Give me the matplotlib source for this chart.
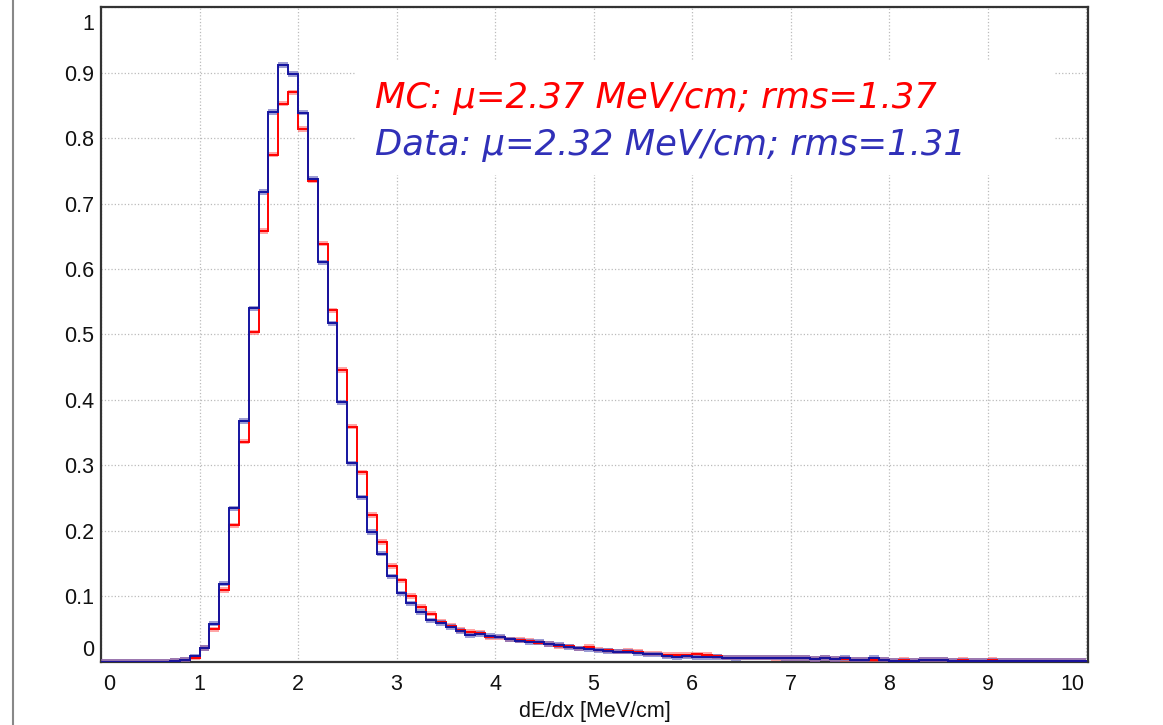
import numpy as np
import matplotlib
matplotlib.use("Agg")
import matplotlib.pyplot as plt
import matplotlib.transforms as mtransforms
from matplotlib.patches import Rectangle
from matplotlib.lines import Line2D

# dE/dx histogram, 100 bins of 0.1 MeV/cm from 0 to 10
bin_edges = np.round(np.arange(0, 10.01, 0.1), 2)

data_vals = [
    0, 0, 0, 0, 0, 0, 0,
    0.001, 0.003, 0.008, 0.021, 0.058, 0.119, 0.234, 0.368, 0.540, 0.718,
    0.840, 0.912, 0.898, 0.839, 0.738, 0.610, 0.517, 0.396, 0.303, 0.251,
    0.198, 0.165, 0.130, 0.104, 0.089, 0.076, 0.063, 0.059, 0.053, 0.047,
    0.040, 0.042, 0.039, 0.038, 0.034, 0.032, 0.030, 0.030, 0.027, 0.025,
    0.022, 0.020, 0.019, 0.017, 0.016, 0.015, 0.015, 0.013, 0.011, 0.011,
    0.008, 0.007, 0.008, 0.007, 0.007, 0.007, 0.006, 0.005, 0.006, 0.006,
    0.006, 0.006, 0.005, 0.005, 0.005, 0.004, 0.005, 0.004, 0.005, 0.002,
    0.002, 0.005, 0.002, 0.0015, 0.0015, 0.0015, 0.002, 0.002, 0.002, 0.0015,
    0.0015, 0.001, 0.001, 0.001,
    0.0005, 0.0005, 0.0005, 0.0005, 0.0005, 0.0005, 0.0005, 0.0005, 0.0005,
]

mc_vals = [
    0, 0, 0, 0, 0, 0, 0,
    0.001, 0.003, 0.006, 0.021, 0.049, 0.109, 0.208, 0.336, 0.503, 0.658,
    0.775, 0.853, 0.870, 0.814, 0.735, 0.639, 0.537, 0.446, 0.359, 0.289,
    0.224, 0.183, 0.146, 0.124, 0.100, 0.084, 0.073, 0.061, 0.055, 0.048,
    0.045, 0.044, 0.037, 0.037, 0.034, 0.033, 0.032, 0.029, 0.027, 0.024,
    0.023, 0.020, 0.022, 0.018, 0.017, 0.015, 0.016, 0.015, 0.012, 0.012,
    0.010, 0.010, 0.010, 0.011, 0.010, 0.008, 0.006, 0.006, 0.006, 0.006,
    0.006, 0.005, 0.005, 0.005, 0.005, 0.004, 0.005, 0.004, 0.004, 0.002,
    0.002, 0.003, 0.002, 0.0015, 0.002, 0.0015, 0.002, 0.002, 0.002, 0.0015,
    0.002, 0.001, 0.001, 0.003,
    0.0005, 0.0005, 0.0005, 0.0005, 0.0005, 0.0005, 0.0005, 0.0005, 0.0005,
]

mc_label = "MC: μ=2.37 MeV/cm; rms=1.37"
data_label = "Data: μ=2.32 MeV/cm; rms=1.31"

plt.rcParams['font.family'] = ['Liberation Sans', 'DejaVu Sans']

W, H = 1163, 725
fig = plt.figure(figsize=(W / 100, H / 100), dpi=100)
L, R, T, B = 101, 1088, 7.4, 661.5
ax = fig.add_axes([L / W, 1 - B / H, (R - L) / W, (B - T) / H])

band = 0.0042
widths = np.diff(bin_edges)
for vals, line_c, band_c in [(mc_vals, '#ff0000', '#ff6a6a'),
                             (data_vals, '#1414a0', '#5a5ab8')]:
    v = np.array(vals)
    ax.bar(bin_edges[:-1], 2 * band, width=widths, bottom=v - band,
           align='edge', color=band_c, alpha=0.6, linewidth=0, zorder=3)
    ax.stairs(v, bin_edges, color=line_c, linewidth=1.4, zorder=4)

ax.set_xlim(0, 10.02)
ax.set_ylim(0, 1.0)
ax.set_xticks(range(0, 11))
ax.set_yticks(np.round(np.arange(0, 1.01, 0.1), 1))
ax.set_yticklabels(['0'] + [f'{t:.1f}' for t in np.arange(0.1, 0.95, 0.1)] + ['1'])
ax.tick_params(length=0, labelsize=15.5, colors='#111111')
ax.tick_params(axis='x', pad=9)
ax.tick_params(axis='y', pad=5)
ax.grid(True, linestyle=':', color='#bbbbbb', linewidth=0.9, zorder=0)
ax.set_axisbelow(True)
for s in ax.spines.values():
    s.set_color('#333333')
    s.set_linewidth(1.6)

# ROOT-style shifted end labels
ylabs = ax.get_yticklabels()
ylabs[0].set_transform(ylabs[0].get_transform() + mtransforms.ScaledTranslation(0, 13 / 100, fig.dpi_scale_trans))
ylabs[-1].set_transform(ylabs[-1].get_transform() + mtransforms.ScaledTranslation(0, -15 / 100, fig.dpi_scale_trans))
xlabs = ax.get_xticklabels()
xlabs[0].set_transform(xlabs[0].get_transform() + mtransforms.ScaledTranslation(8 / 100, 0, fig.dpi_scale_trans))
xlabs[-1].set_transform(xlabs[-1].get_transform() + mtransforms.ScaledTranslation(-14 / 100, 0, fig.dpi_scale_trans))

ax.set_xlabel("dE/dx [MeV/cm]", fontsize=15.5, labelpad=4, color='#111111')

# legend box
ax.add_patch(Rectangle((2.58, 0.744), 7.09, 0.176, facecolor='white',
                       edgecolor='none', zorder=2))
ax.text(2.78, 0.846, mc_label, color='#ff0000', fontsize=25.5, style='italic',
        family=['DejaVu Sans'], va='baseline', zorder=5)
ax.text(2.78, 0.774, data_label, color='#3030b8', fontsize=25.5, style='italic',
        family=['DejaVu Sans'], va='baseline', zorder=5)

fig.add_artist(Line2D([13 / W, 13 / W], [0, 1], color='#888888', linewidth=1.5))

fig.savefig("out.png", dpi=100)
